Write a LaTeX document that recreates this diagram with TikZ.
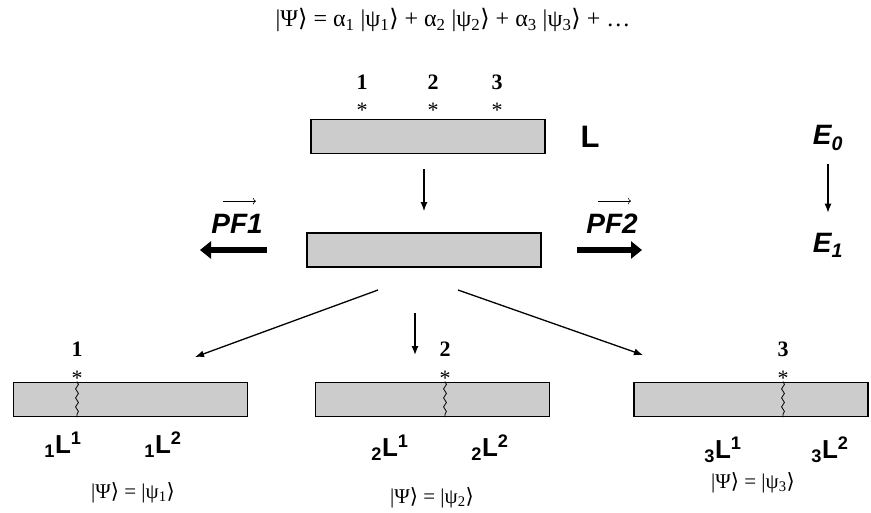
\documentclass[tikz,border=0pt]{standalone}
\usepackage{fontspec}
\setmainfont{Liberation Serif}
\setsansfont{Liberation Sans}
\newfontfamily\dv{DejaVu Sans}
\usetikzlibrary{arrows.meta}
\usetikzlibrary{decorations.pathmorphing}

\newcommand{\kt}[1]{|#1{\dv\char"27E9}}

\begin{document}
\begin{tikzpicture}[x=1pt,y=-1pt,
  bar/.style={draw,line width=1.8pt,fill=gray!40,minimum width=234pt,minimum height=34pt,inner sep=0pt},
  num/.style={font=\fontsize{22}{24}\selectfont\bfseries,inner sep=0pt},
  star/.style={font=\fontsize{22}{22}\selectfont,inner sep=0pt},
  big/.style={font=\fontsize{31}{32}\selectfont\sffamily\bfseries,inner sep=0pt},
  slant/.style={big,font=\fontsize{28}{30}\selectfont\sffamily\bfseries\itshape},
  part/.style={font=\fontsize{26}{28}\selectfont\sffamily\bfseries,inner sep=0pt},
  ket/.style={font=\fontsize{21}{23}\selectfont,inner sep=0pt},
  arr/.style={-{Latex[length=9pt,width=7pt]},line width=1.3pt},
  fat/.style={line width=6pt,-{Triangle[length=11pt,width=17pt]}},
  wave/.style={decorate,decoration={snake,amplitude=1.4pt,segment length=9pt},line width=0.8pt}]

\useasboundingbox (0,0) rectangle (871,512);

% superposition
\node[ket,font=\fontsize{24}{26}\selectfont] (eq) at (453,20)
  {\kt{Ψ} = α\textsubscript{1} \kt{ψ\textsubscript{1}} + α\textsubscript{2} \kt{ψ\textsubscript{2}} + α\textsubscript{3} \kt{ψ\textsubscript{3}} + …};

% initial and excited molecule
\node[bar] (top) at (428,136.5) {};
\node[bar] (mid) at (424,250) {};
\foreach \x/\n in {362/1,433/2,497/3}{
  \node[num] (n\n) at (\x,82) {\n};
  \node[star] (s\n) at (\x,110) {*};
}
\node[big] (L) at (590,137) {L};
\draw[arr,shorten <=15pt,shorten >=21pt] (top.south -| mid.south) -- (mid.north);

\node[slant] (e0) at (828,138) {E\textsubscript{0}};
\node[slant] (e1) at (828,245) {E\textsubscript{1}};
\draw[arr,shorten <=14pt,shorten >=20pt] (e0.south) -- (e1.north);

% reaction paths
\node[slant] (pf1) at (237,224) {PF1};
\node[slant] (pf2) at (612,224) {PF2};
\draw[-{To[length=3pt]},line width=0.6pt] (pf1.north) ++(-14,-13) -- ++(33,0);
\draw[-{To[length=3pt]},line width=0.6pt] (pf2.north) ++(-14,-13) -- ++(33,0);
\coordinate (f1) at (267,250);
\coordinate (g1) at (200,250);
\coordinate (f2) at (577,250);
\coordinate (g2) at (642,250);
\draw[fat] (f1) -- (g1);
\draw[fat] (f2) -- (g2);

\coordinate (d1) at (378,290);
\coordinate (t1) at (195,357);
\coordinate (d2) at (458,290);
\coordinate (t2) at (643,355);
\coordinate (d3) at (415,313);
\coordinate (t3) at (415,355);
\draw[arr] (d1) -- (t1);
\draw[arr] (d2) -- (t2);
\draw[arr] (d3) -- (t3);

% broken bonds
\foreach \i/\cx/\wx in {1/130.5/77,2/432.5/445,3/751/783}{
  \node[bar] (b\i) at (\cx,399.5) {};
  \coordinate (w\i) at (\wx,399.5);
  \draw[wave] (b\i.north -| w\i) -- (b\i.south -| w\i);
  \node[num] (m\i) at (\wx,349) {\i};
  \node[star] (r\i) at (\wx,378) {*};
}

% fragments
\node[part] (a1) at (63,445) {\textsubscript{1}L\textsuperscript{1}};
\node[part] (a2) at (163,445) {\textsubscript{1}L\textsuperscript{2}};
\node[part] (c1) at (390,448) {\textsubscript{2}L\textsuperscript{1}};
\node[part] (c2) at (490,448) {\textsubscript{2}L\textsuperscript{2}};
\node[part] (k1) at (723,450) {\textsubscript{3}L\textsuperscript{1}};
\node[part] (k2) at (830,450) {\textsubscript{3}L\textsuperscript{2}};

\node[ket] (p1) at (133,493) {\kt{Ψ} = \kt{ψ\textsubscript{1}}};
\node[ket] (p2) at (432,498) {\kt{Ψ} = \kt{ψ\textsubscript{2}}};
\node[ket] (p3) at (753,483) {\kt{Ψ} = \kt{ψ\textsubscript{3}}};

\end{tikzpicture}
\end{document}
